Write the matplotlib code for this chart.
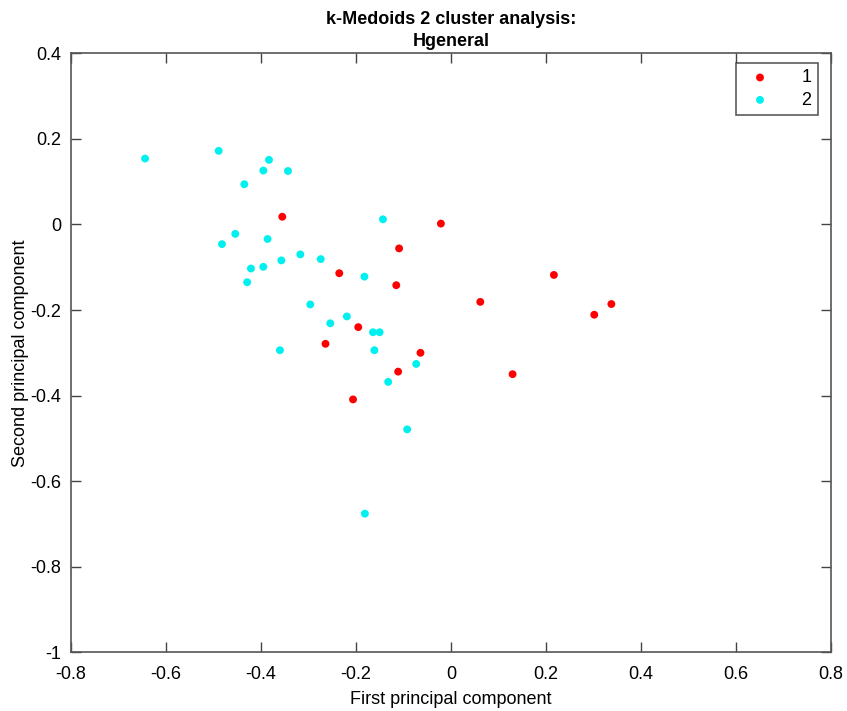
import numpy as np
import matplotlib
matplotlib.use('Agg')
import matplotlib.pyplot as plt

plt.rcParams['font.family'] = ['Liberation Sans', 'DejaVu Sans']

# cluster 1 (red)
x1 = [-0.355, -0.021, -0.109, -0.235, -0.115, 0.217, 0.062, 0.338, 0.302,
      -0.195, -0.264, -0.064, -0.111, 0.130, -0.206]
y1 = [0.018, 0.002, -0.056, -0.114, -0.142, -0.118, -0.181, -0.186, -0.211,
      -0.240, -0.279, -0.300, -0.344, -0.350, -0.409]

# cluster 2 (cyan)
x2 = [-0.644, -0.489, -0.383, -0.395, -0.343, -0.435, -0.143, -0.454, -0.482,
      -0.386, -0.421, -0.395, -0.429, -0.357, -0.317, -0.274, -0.182, -0.296,
      -0.254, -0.219, -0.164, -0.150, -0.360, -0.161, -0.073, -0.132, -0.092,
      -0.181]
y2 = [0.154, 0.172, 0.151, 0.126, 0.125, 0.094, 0.012, -0.022, -0.046,
      -0.034, -0.103, -0.099, -0.135, -0.084, -0.070, -0.081, -0.122, -0.187,
      -0.231, -0.215, -0.252, -0.252, -0.294, -0.294, -0.326, -0.368, -0.479,
      -0.676]

labels = ['1', '2']
colors = ['#ff0000', '#00f0f0']

fig = plt.figure(figsize=(8.47, 7.11), dpi=100)
ax = fig.add_axes([0.0838, 0.0826, 0.897, 0.8424])

ax.scatter(x1, y1, s=32, c=colors[0], label=labels[0], edgecolors='none')
ax.scatter(x2, y2, s=32, c=colors[1], label=labels[1], edgecolors='none')

ax.set_xlim(-0.8, 0.8)
ax.set_ylim(-1, 0.4)
ax.set_xticks(np.arange(-0.8, 0.81, 0.2))
ax.set_yticks(np.arange(-1, 0.41, 0.2))
ax.set_xticklabels(['-0.8', '-0.6', '-0.4', '-0.2', '0', '0.2', '0.4', '0.6', '0.8'])
ax.set_yticklabels(['-1', '-0.8', '-0.6', '-0.4', '-0.2', '0', '0.2', '0.4'])
ax.tick_params(axis='both', direction='in', length=7, width=1, top=True, right=True,
               labelsize=13, color='#444444')
ax.tick_params(axis='x', pad=10)
ax.tick_params(axis='y', pad=7)
for s in ax.spines.values():
    s.set_color('#555555')
    s.set_linewidth(1.2)

ax.set_xlabel('First principal component', fontsize=13, labelpad=6)
ax.set_ylabel('Second principal component', fontsize=13, labelpad=1)
ax.set_title('k-Medoids 2 cluster analysis:\nHgeneral', fontsize=13,
             fontweight='bold', pad=5, linespacing=1.45)

leg = ax.legend(loc='upper right', bbox_to_anchor=(0.983, 0.984),
                fontsize=13, frameon=True, fancybox=False, handletextpad=1.3,
                borderpad=0.35, labelspacing=0.3, handlelength=2.0,
                borderaxespad=0, markerscale=1.0)
leg.get_frame().set_edgecolor('#333333')
leg.get_frame().set_linewidth(1.2)

plt.savefig('out.png', dpi=100)
